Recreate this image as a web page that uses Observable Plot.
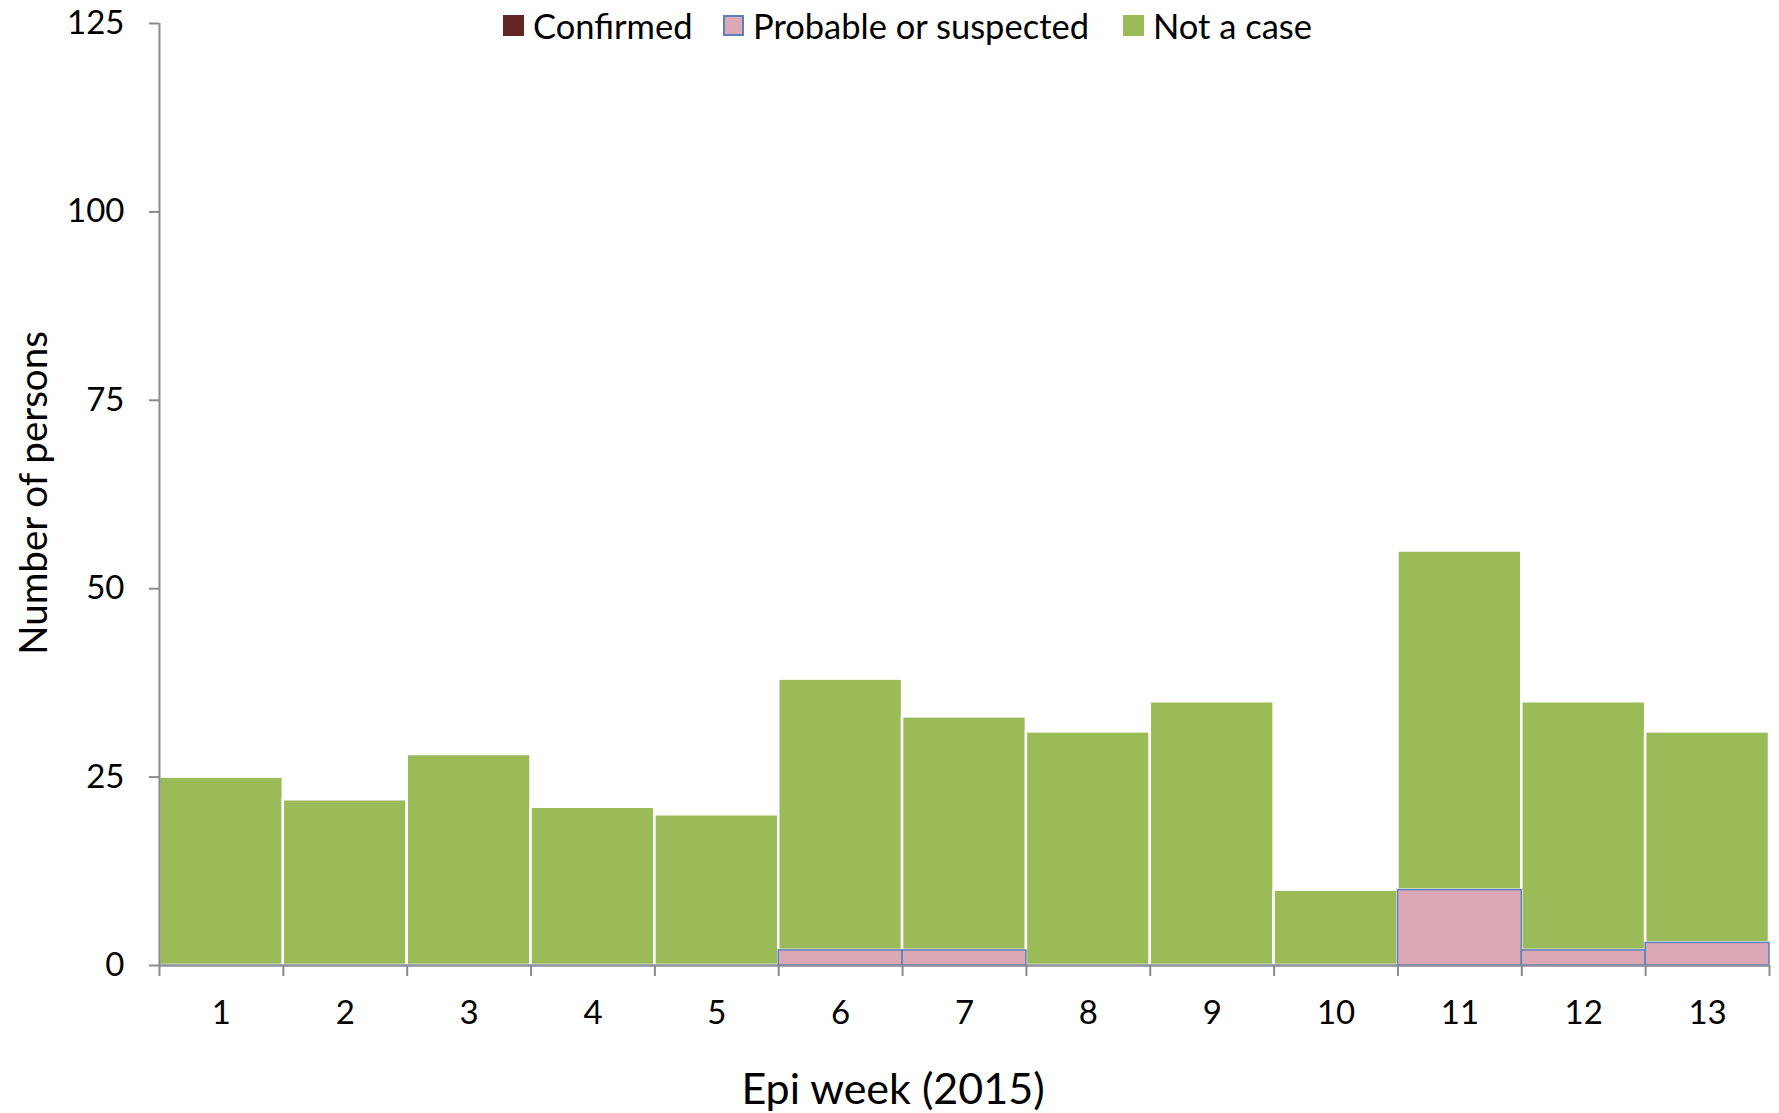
<!DOCTYPE html>
<html><head><meta charset="utf-8">
<script src="https://cdn.jsdelivr.net/npm/d3@7"></script>
<script src="https://cdn.jsdelivr.net/npm/@observablehq/plot@0.6"></script>
<style>
body{margin:0;background:#fff;font-family:Lato, "Open Sans", sans-serif;}
#wrap{position:relative;width:1779px;height:1113px;overflow:hidden;}
#wrap svg{position:absolute;left:0;top:0;}
.leg{position:absolute;top:0;height:50px;display:flex;align-items:center;font-size:34.5px;color:#000;white-space:nowrap;}
.sw{width:21px;height:21px;margin-right:9px;box-sizing:border-box;}
#xt{position:absolute;left:0;width:1786px;text-align:center;top:1066px;font-size:43px;line-height:44px;color:#000;}
#yt{position:absolute;left:32px;top:493px;font-size:38.5px;line-height:38px;color:#000;white-space:nowrap;transform:translate(-50%,-50%) rotate(-90deg);}
</style></head><body><div id="wrap"></div>
<script>
const weeks = [1,2,3,4,5,6,7,8,9,10,11,12,13];
const confirmed = [0,0,0,0,0,0,0,0,0,0,0,0,0];
const probable  = [0,0,0,0,0,2,2,0,0,0,10,2,3];
const notACase  = [25,22,28,21,20,36,31,31,35,10,45,33,28];
const seriesNames = ["Confirmed","Probable or suspected","Not a case"];
const seriesColors = ["#632423","#DBA9B5","#9BBB59"];
const yTicks = [0,25,50,75,100,125];
const xTitle = "Epi week (2015)";
const yTitle = "Number of persons";

const seriesValues = [confirmed, probable, notACase];
const rows = [];
weeks.forEach((w,i)=>{
  let base = 0;
  seriesNames.forEach((s,j)=>{
    const v = seriesValues[j][i];
    rows.push({week:w, series:s, value:v, y1:base, y2:base+v});
    base += v;
  });
});
const boundaries = [weeks[0]-0.5, ...weeks.map(w=>w+0.5)];
const bx1 = d=>d.week-0.5, bx2 = d=>d.week+0.5;
const axisGray = "#8a8a8a";

const chart = Plot.plot({
  width:1779, height:1113,
  marginLeft:159, marginRight:10, marginTop:23, marginBottom:148,
  style:{fontFamily:"Lato, 'Open Sans', sans-serif", fontSize:"33px", color:"#000", background:"transparent", overflow:"visible"},
  x:{domain:[boundaries[0], boundaries[boundaries.length-1]]},
  y:{domain:[yTicks[0], yTicks[yTicks.length-1]]},
  color:{domain:seriesNames, range:seriesColors},
  marks:[
    Plot.rect(rows.filter(d=>d.series==="Not a case" && d.value>0), {x1:bx1, x2:bx2, y1:"y1", y2:"y2", fill:"series", stroke:"white", strokeWidth:2.5}),
    Plot.rect(rows.filter(d=>d.series==="Probable or suspected" && d.value>0), {x1:bx1, x2:bx2, y1:"y1", y2:"y2", fill:"series", stroke:"#5B7FBF", strokeWidth:1.5}),
    Plot.rect(rows.filter(d=>d.series==="Confirmed" && d.value>0), {x1:bx1, x2:bx2, y1:"y1", y2:"y2", fill:"series"}),
    Plot.ruleX([boundaries[0]], {y1:yTicks[0], y2:yTicks[yTicks.length-1], stroke:axisGray, strokeWidth:2}),
    Plot.ruleY([0], {stroke:"#8a8fa0", strokeWidth:2.5}),
    Plot.axisY({ticks:yTicks, tickSize:10, tickPadding:25, label:null, stroke:axisGray, strokeWidth:2, fill:"#000"}),
    Plot.axisX({ticks:boundaries, tickSize:11, tickFormat:()=>"", label:null, stroke:axisGray, strokeWidth:2}),
    Plot.axisX({ticks:weeks, tickSize:0, tickPadding:35, label:null, fill:"#000"})
  ]
});
const wrap = document.getElementById("wrap");
wrap.appendChild(chart);

// legend
const legLefts = [503, 723, 1123];
seriesNames.forEach((s,i)=>{
  const item = document.createElement("div");
  item.className = "leg";
  item.style.left = legLefts[i] + "px";
  const sw = document.createElement("div");
  sw.className = "sw";
  sw.style.background = seriesColors[i];
  if (s === "Probable or suspected") sw.style.border = "2px solid #5B7FBF";
  item.appendChild(sw);
  const t = document.createElement("span");
  t.textContent = s;
  item.appendChild(t);
  wrap.appendChild(item);
});
const xt = document.createElement("div"); xt.id="xt"; xt.textContent = xTitle; wrap.appendChild(xt);
const yt = document.createElement("div"); yt.id="yt"; yt.textContent = yTitle; wrap.appendChild(yt);
</script></body></html>
